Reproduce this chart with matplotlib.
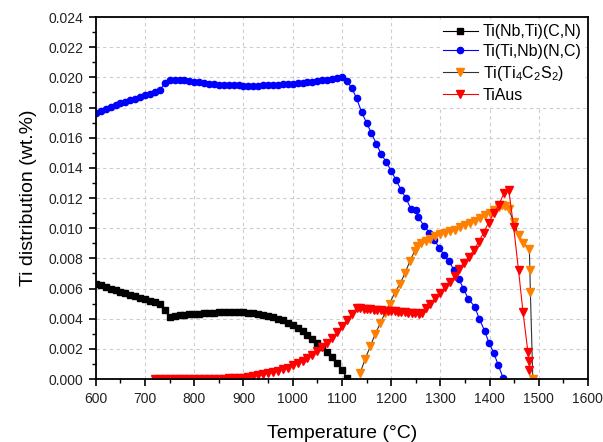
import matplotlib
matplotlib.use("Agg")
import matplotlib.pyplot as plt
from matplotlib.ticker import MultipleLocator

plt.rcParams["font.family"] = ["Liberation Sans", "DejaVu Sans"]
plt.rcParams["mathtext.fontset"] = "custom"
plt.rcParams["mathtext.rm"] = "Liberation Sans"
plt.rcParams["mathtext.it"] = "Liberation Sans"

# Ti(Nb,Ti)(C,N)
t_nbti = [600, 610, 620, 630, 640, 650, 660, 670, 680, 690, 700, 710, 720, 730,
          740, 750, 760, 770, 780, 790, 800, 810, 820, 830, 840, 850, 860, 870,
          880, 890, 900, 910, 920, 930, 940, 950, 960, 970, 980, 990, 1000, 1010,
          1020, 1030, 1040, 1050, 1060, 1070, 1080, 1090, 1100, 1110]
w_nbti = [0.0063, 0.0062, 0.0061, 0.0060, 0.0059, 0.0058, 0.0057, 0.0056,
          0.0055, 0.0054, 0.0053, 0.0052, 0.0051, 0.0050, 0.0046, 0.0041,
          0.0042, 0.00422, 0.00425, 0.00428, 0.0043, 0.00433, 0.00436, 0.00438,
          0.0044, 0.00441, 0.00442, 0.00443, 0.00443, 0.00443, 0.00442, 0.0044,
          0.00437, 0.00432, 0.00426, 0.00418, 0.0041, 0.0040, 0.00388, 0.00374,
          0.00358, 0.0034, 0.00318, 0.00294, 0.00268, 0.0024, 0.0021, 0.00178,
          0.00143, 0.00105, 0.0006, 0.0001]

# Ti(Ti,Nb)(N,C)
t_tinb = [600, 610, 620, 630, 640, 650, 660, 670, 680, 690, 700, 710, 720, 730,
          740, 750, 760, 770, 780, 790, 800, 810, 820, 830, 840, 850, 860, 870,
          880, 890, 900, 910, 920, 930, 940, 950, 960, 970, 980, 990, 1000, 1010,
          1020, 1030, 1040, 1050, 1060, 1070, 1080, 1090, 1100, 1110, 1120, 1130,
          1140, 1150, 1160, 1170, 1180, 1190, 1200, 1210, 1220, 1230, 1240, 1250,
          1255, 1267, 1278, 1288, 1298, 1308, 1318, 1328, 1338, 1347, 1357, 1370,
          1379, 1390, 1399, 1409, 1418, 1428]
w_tinb = [0.01765, 0.0178, 0.01792, 0.01805, 0.01815, 0.01828, 0.01838, 0.01848,
          0.01858, 0.0187, 0.01882, 0.01892, 0.019, 0.01915, 0.0196, 0.01985,
          0.01983, 0.01982, 0.0198, 0.01975, 0.01971, 0.01967, 0.01963, 0.01958,
          0.01955, 0.01952, 0.0195, 0.01948, 0.01946, 0.01946, 0.01945, 0.01945,
          0.01945, 0.01945, 0.01946, 0.01947, 0.01948, 0.0195, 0.01953, 0.01955,
          0.01958, 0.0196, 0.01963, 0.01966, 0.0197, 0.01975, 0.0198, 0.01985,
          0.0199, 0.01998, 0.02005, 0.01975, 0.0193, 0.0186, 0.0177, 0.0170,
          0.0163, 0.0156, 0.0149, 0.0144, 0.0138, 0.0132, 0.01255, 0.0120,
          0.0113, 0.0112, 0.01076, 0.01014, 0.0097, 0.0092, 0.0087, 0.0082,
          0.0078, 0.0072, 0.0066, 0.0060, 0.0053, 0.0048, 0.0040, 0.0032,
          0.0024, 0.0017, 0.0009, 0.00005]

# Ti(Ti4C2S2)
t_tics = [1137, 1147, 1158, 1168, 1178, 1188, 1197, 1207, 1218, 1228, 1238,
          1248, 1253, 1260, 1270, 1280, 1290, 1300, 1310, 1320, 1330, 1340, 1350,
          1360, 1370, 1380, 1390, 1400, 1410, 1420, 1426, 1432, 1439, 1449, 1459,
          1469, 1481, 1482, 1483, 1488]
w_tics = [0.0004, 0.0013, 0.0022, 0.0030, 0.0037, 0.0044, 0.0050, 0.0057,
          0.0063, 0.0070, 0.0078, 0.0085, 0.0088, 0.0090, 0.00915, 0.0093,
          0.00945, 0.0096, 0.0097, 0.0098, 0.0099, 0.01005, 0.0102, 0.01035,
          0.0105, 0.0107, 0.0109, 0.0110, 0.0112, 0.0114, 0.01155, 0.0115,
          0.0113, 0.0104, 0.00955, 0.0090, 0.0086, 0.0072, 0.0058, 0.0]

# TiAus
t_aus = [720, 730, 740, 750, 760, 770, 780, 790, 800, 810, 820, 830, 840, 850,
         860, 870, 880, 890, 900, 910, 920, 930, 940, 950, 960, 970, 980, 990,
         1000, 1010, 1020, 1030, 1040, 1050, 1060, 1070, 1080, 1090, 1100, 1110,
         1120, 1130, 1137, 1144, 1151, 1158, 1165, 1172, 1179, 1186, 1193, 1200,
         1207, 1214, 1221, 1228, 1235, 1242, 1249, 1256, 1262, 1270, 1280, 1290,
         1300, 1310, 1320, 1330, 1338, 1348, 1358, 1368, 1378, 1388, 1398, 1409,
         1419, 1429, 1439, 1449, 1459, 1468, 1478, 1480, 1481]
w_aus = [0.0, 0.0, 0.0, 0.0, 0.0, 0.0, 0.0, 0.0, 0.0, 0.0, 0.0, 0.0, 0.0,
         0.00001, 0.00002, 0.00004, 0.00006, 0.00008, 0.0001, 0.00014, 0.00018,
         0.00024, 0.0003, 0.00038, 0.00046, 0.00055, 0.00065, 0.00076, 0.0009,
         0.00105, 0.00122, 0.0014, 0.00162, 0.00186, 0.00212, 0.0024, 0.0027,
         0.0031, 0.0035, 0.0039, 0.0043, 0.0047, 0.00468, 0.00466, 0.00464,
         0.00462, 0.0046, 0.00458, 0.00456, 0.00454, 0.00452, 0.0045, 0.00448,
         0.00446, 0.00444, 0.00442, 0.0044, 0.00438, 0.00436, 0.00434, 0.0044,
         0.0047, 0.0050, 0.00535, 0.0057, 0.0061, 0.00645, 0.0068, 0.0073,
         0.0077, 0.0081, 0.00855, 0.0091, 0.0097, 0.01036, 0.011, 0.01154,
         0.0123, 0.01255, 0.0101, 0.0072, 0.00446, 0.0018, 0.0012, 0.0006]

fig = plt.figure(figsize=(6.03, 4.42), dpi=100)
ax = fig.add_axes([0.159, 0.1425, 0.816, 0.819])

ax.plot(t_nbti, w_nbti, color="black", lw=0.8, marker="s", ms=5,
        mfc="black", mec="black", label="Ti(Nb,Ti)(C,N)")
ax.plot(t_tinb, w_tinb, color="blue", lw=0.8, marker="o", ms=4.5,
        mfc="blue", mec="blue", label="Ti(Ti,Nb)(N,C)")
ax.plot(t_tics, w_tics, color="#333333", lw=0.8, marker="v", ms=5.2,
        mfc="#ff8000", mec="#ff8000", label=r"Ti(Ti$_4$C$_2$S$_2$)")
ax.plot(t_aus, w_aus, color="red", lw=0.8, marker="v", ms=5.2,
        mfc="red", mec="red", label="TiAus")

ax.set_xlim(600, 1600)
ax.set_ylim(0, 0.024)
ax.xaxis.set_major_locator(MultipleLocator(100))
ax.xaxis.set_minor_locator(MultipleLocator(50))
ax.yaxis.set_major_locator(MultipleLocator(0.002))
ax.yaxis.set_minor_locator(MultipleLocator(0.001))
ax.yaxis.set_major_formatter(plt.FormatStrFormatter("%.3f"))

ax.tick_params(which="major", direction="out", length=5, width=1.2,
               labelsize=10, colors="black", labelcolor="#222222", pad=4)
ax.tick_params(which="minor", direction="out", length=3, width=1.0)
ax.tick_params(top=False, right=False, which="both")
for sp in ax.spines.values():
    sp.set_linewidth(1.3)

ax.grid(True, which="major", linestyle=(0, (3, 3)), color="#cccccc", lw=0.8)
ax.set_axisbelow(True)

ax.set_xlabel("Temperature (°C)", fontsize=14, labelpad=14)
ax.set_ylabel("Ti distribution (wt.%)", fontsize=14, labelpad=8)

leg = ax.legend(loc="upper right", bbox_to_anchor=(1.0, 0.998), fontsize=11.5,
                frameon=True, fancybox=False, handlelength=2.2,
                handletextpad=0.3, labelspacing=0.3, borderaxespad=0.2,
                borderpad=0.2)
leg.get_frame().set_edgecolor("none")
leg.get_frame().set_facecolor("white")
leg.get_frame().set_alpha(1.0)

fig.savefig("out.png", dpi=100)
